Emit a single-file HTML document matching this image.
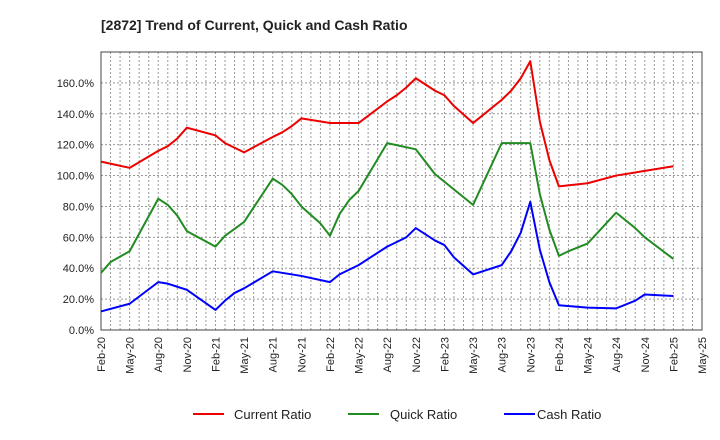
<!DOCTYPE html>
<html><head><meta charset="utf-8"><style>
body{margin:0;background:#fff;font-family:"Liberation Sans",sans-serif}
svg{display:block}
</style></head><body>
<svg id="c" width="720" height="440">
<text x="101" y="30" font-size="14" font-weight="bold" fill="#222">[2872]  Trend of Current, Quick and Cash Ratio</text>
<g id="grid"></g><g id="axes"></g><g id="series"></g>
<g font-size="13" fill="#222">
<g><line x1="193" y1="414" x2="224" y2="414" stroke="#e00" stroke-width="2"/><text x="234" y="419">Current Ratio</text></g>
<g><line x1="348" y1="414" x2="379" y2="414" stroke="#228b22" stroke-width="2"/><text x="390" y="419">Quick Ratio</text></g>
<g><line x1="504" y1="414" x2="535" y2="414" stroke="#00f" stroke-width="2"/><text x="537" y="419">Cash Ratio</text></g>
</g>
</svg>
<script>
const xTickLabels=["Feb-20","May-20","Aug-20","Nov-20","Feb-21","May-21","Aug-21","Nov-21","Feb-22","May-22","Aug-22","Nov-22","Feb-23","May-23","Aug-23","Nov-23","Feb-24","May-24","Aug-24","Nov-24","Feb-25","May-25"];
const yTicks=[0,20,40,60,80,100,120,140,160];
const currentMonths=[0,3,6,7,8,9,12,13,15,18,19,20,21,24,27,30,31,32,33,35,36,37,39,42,43,44,45,46,47,48,51,54,57,60];
const currentValues=[109,105,116,119,124,131,126,121,115,125,128,132,137,134,134,148,152,157,163,155,152,145,134,149,155,163,174,135,110,93,95,100,103,106];
const quickMonths=[0,1,3,6,7,8,9,12,13,15,18,19,20,21,23,24,25,26,27,30,33,34,35,36,39,42,45,46,47,48,49,51,54,55,56,57,60];
const quickValues=[37,44,51,85,81,74,64,54,61,70,98,94,88,80,69,61,75,84,90,121,117,109,101,96,81,121,121,88,65,48,51,56,76,71,66,60,46];
const cashMonths=[0,3,6,7,8,9,12,13,14,15,18,21,24,25,27,28,30,31,32,33,35,36,37,39,42,43,44,45,46,47,48,51,54,56,57,60];
const cashValues=[12,17,31,30,28,26,13,19,24,27,38,35,31,36,42,46,54,57,60,66,58,55,47,36,42,51,63,83,52,31,16,14.5,14,19,23,22];
const L=101,R=702,T=52,B=330,NS="http://www.w3.org/2000/svg";
const xs=m=>L+(R-L)*m/63, ys=v=>B-(B-T)*v/180;
function mk(t,a,p){const e=document.createElementNS(NS,t);for(const k in a)e.setAttribute(k,a[k]);p.appendChild(e);return e;}
const g=document.getElementById('grid'),ax=document.getElementById('axes'),s=document.getElementById('series');
for(let m=1;m<63;m++){const l=mk('line',{x1:xs(m),x2:xs(m),y1:T,y2:B,stroke:'#999','stroke-dasharray':'2,2','stroke-width':1},g);

}
yTicks.forEach(v=>{if(v>0){const l=mk('line',{x1:L,x2:R,y1:ys(v),y2:ys(v),stroke:'#999','stroke-dasharray':'2,2'},g);

}
const t=mk('text',{x:94,y:ys(v)+4,'text-anchor':'end','font-size':11,fill:'#222'},ax);t.textContent=v.toFixed(1)+'%';

});
xTickLabels.forEach((lb,i)=>{const x=xs(i*3);const t=mk('text',{x:0,y:0,transform:`translate(${x+4},337) rotate(-90)`,'text-anchor':'end','font-size':11,fill:'#222'},ax);t.textContent=lb;

});
const fr=mk('rect',{x:L,y:T,width:R-L,height:B-T,fill:'none',stroke:'#444','stroke-width':1},ax);


[[currentMonths,currentValues,'#e00','current-ratio-line'],[quickMonths,quickValues,'#228b22','quick-ratio-line'],[cashMonths,cashValues,'#00f','cash-ratio-line']].forEach(([ms,vs,c,n])=>{
const p=mk('polyline',{points:ms.map((m,i)=>xs(m)+','+ys(vs[i])).join(' '),fill:'none',stroke:c,'stroke-width':2,'stroke-linejoin':'round'},s);

});
</script>
</body></html>
